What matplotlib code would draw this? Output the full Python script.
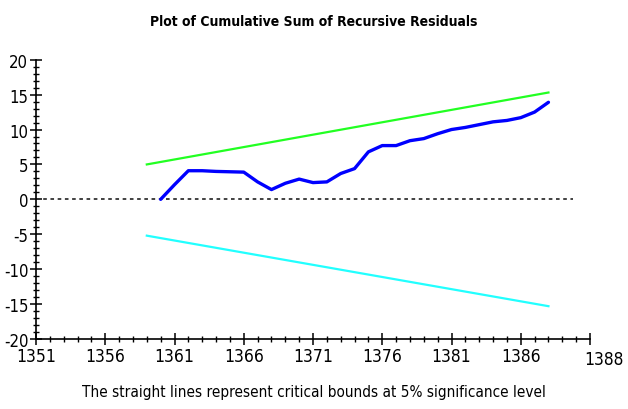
import matplotlib
matplotlib.use("Agg")
import matplotlib.pyplot as plt
from matplotlib.ticker import MultipleLocator, FixedLocator
from matplotlib.transforms import blended_transform_factory
from matplotlib import font_manager as fm

# ---- data ----
years = list(range(1360, 1389))
cusum = [0.0, 2.1, 4.1, 4.1, 4.0, 3.95, 3.9, 2.5, 1.4, 2.3,
         2.9, 2.4, 2.5, 3.7, 4.4, 6.8, 7.7, 7.7, 8.4, 8.7,
         9.4, 10.0, 10.3, 10.7, 11.1, 11.3, 11.7, 12.5, 13.9]
bound_years = [1359, 1388]
upper_bound = [5.0, 15.3]
lower_bound = [-5.2, -15.3]
x_tick_values = [1351, 1356, 1361, 1366, 1371, 1376, 1381, 1386, 1391]
x_tick_labels = ["1351", "1356", "1361", "1366", "1371", "1376", "1381", "1386", ""]
end_label = "1388"
y_ticks = [-20, -15, -10, -5, 0, 5, 10, 15, 20]
y_tick_labels = ["-20", "-15", "-10", "-5", "0", "5", "10", "15", "20"]


def is_cond(f):
    if "Narrow" in f.name or "Condensed" in f.name:
        return True
    st = f.stretch
    if isinstance(st, str):
        return "condensed" in st
    return isinstance(st, int) and st < 500


def wt(f):
    w = f.weight
    if isinstance(w, str):
        return {"normal": 400, "regular": 400, "bold": 700}.get(w, 400)
    return w


cond = [f for f in fm.fontManager.ttflist if is_cond(f) and f.style == "normal"]
regs = [f for f in cond if wt(f) == 400]
bolds = [f for f in cond if wt(f) >= 600]
narrow = bool(regs)
if narrow:
    fp_reg = fm.FontProperties(fname=regs[0].fname)
    fp_bold = fm.FontProperties(fname=bolds[0].fname) if bolds else fm.FontProperties(fname=regs[0].fname, weight="bold")
else:
    fp_reg = fm.FontProperties(family=["Liberation Sans", "DejaVu Sans"])
    fp_bold = fm.FontProperties(family=["Liberation Sans", "DejaVu Sans"], weight="bold")

xtick_size = 12.5 if narrow else 12
ytick_size = 12 if narrow else 11
fig = plt.figure(figsize=(6.28, 4.10), dpi=100)
ax = fig.add_axes([36/628, 1-340/410, (590-36)/628, (340-60.7)/410])

ax.plot(bound_years, upper_bound, color="#22ff22", lw=1.6)
ax.plot(bound_years, lower_bound, color="#22ffff", lw=1.6)
ax.axhline(0, xmin=0, xmax=(1389.8-1351)/40, color="#333333", lw=1.3, ls=(0, (2, 2)))
ax.plot(years, cusum, color="#0000ff", lw=2.4, solid_capstyle="round")

ax.set_xlim(1351, 1391)
ax.set_ylim(-20, 20)
for s in ["top", "right"]:
    ax.spines[s].set_visible(False)
for s in ["left", "bottom"]:
    ax.spines[s].set_linewidth(1.2)

ax.xaxis.set_major_locator(FixedLocator(x_tick_values))
ax.set_xticklabels(x_tick_labels)
ax.xaxis.set_minor_locator(MultipleLocator(1))
ax.set_yticks(y_ticks)
ax.set_yticklabels(y_tick_labels)
ax.yaxis.set_minor_locator(MultipleLocator(1))
ax.tick_params(axis="both", which="major", direction="inout", length=9, width=1.1, pad=1)
ax.tick_params(axis="both", which="minor", direction="inout", length=5, width=1.0)
for lab in ax.get_xticklabels():
    lab.set_fontproperties(fp_reg)
    lab.set_fontsize(xtick_size)
for lab in ax.get_yticklabels():
    lab.set_fontproperties(fp_reg)
    lab.set_fontsize(ytick_size)

trans = blended_transform_factory(ax.transData, ax.transAxes)
ax.text(1392.0, -0.038, end_label, transform=trans, ha="center", va="top",
        fontproperties=fp_reg, fontsize=xtick_size)

fig.text(0.5, 1-22/410, "Plot of Cumulative Sum of Recursive Residuals", ha="center",
         va="center", fontproperties=fp_bold, fontsize=(10 if narrow else 11))
fig.text(0.5, 1-393/410, "The straight lines represent critical bounds at 5% significance level",
         ha="center", va="center", fontproperties=fp_reg, fontsize=(11 if narrow else 11.5))

fig.savefig("out.png", dpi=100)
